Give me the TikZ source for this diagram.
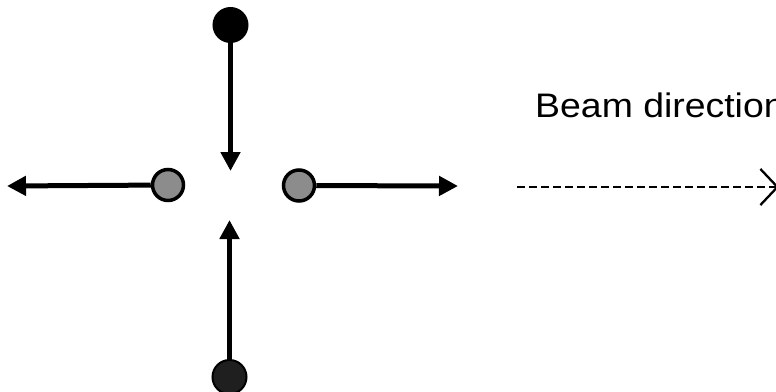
\documentclass[tikz,border=0pt]{standalone}
\usepackage{fontspec}
\setmainfont{Liberation Sans}
\usetikzlibrary{arrows.meta}
\begin{document}
\begin{tikzpicture}[x=1pt,y=-1pt,
  darkball/.style={circle,draw=black,line width=2pt,fill=black,minimum size=34pt,inner sep=0pt},
  grayball/.style={circle,draw=black,line width=3.5pt,fill=black!45,minimum size=31pt,inner sep=0pt},
  mover/.style={line width=5pt,-{Triangle[length=19pt,width=19pt]}},
  beam/.style={line width=2.3pt,dash pattern=on 7.5pt off 4.5pt,-{Straight Barb[length=17pt,width=36pt,line width=2.3pt]}}
]
\useasboundingbox (0,0) rectangle (776,391);
\node[darkball] (top) at (230.5,25) {};
\node[darkball,fill=black!88] (bot) at (229.5,377) {};
\node[grayball] (left) at (168,185) {};
\node[grayball] (right) at (299,185.5) {};
\coordinate (topend) at (230.5,171);
\coordinate (botend) at (229.5,220);
\coordinate (leftend) at (7,186);
\coordinate (rightend) at (458,186);
\draw[mover] (top) -- (topend);
\draw[mover] (bot) -- (botend);
\draw[mover] (left) -- (leftend);
\draw[mover] (right) -- (rightend);
\node[anchor=base west,inner sep=0pt,font=\fontsize{34}{40}\selectfont,xscale=1.1] (label) at (535,117) {Beam direction};
\coordinate (beamstart) at (517,187);
\coordinate (beamend) at (779,187);
\draw[beam] (beamstart) -- (beamend);
\end{tikzpicture}
\end{document}
